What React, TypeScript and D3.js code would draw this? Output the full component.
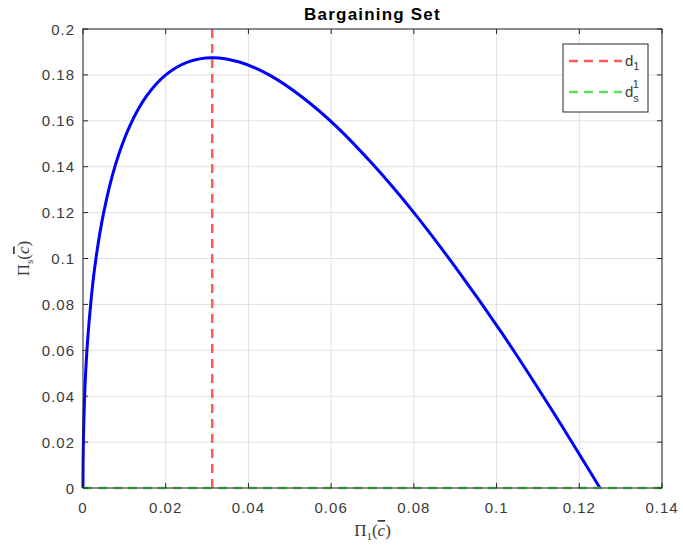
import React from "react";
import * as d3 from "d3";

const curveX = [0, 0.0000125, 0.00005, 0.00015, 0.0003125, 0.0006, 0.00125, 0.0028, 0.005, 0.0078, 0.01125, 0.0153, 0.02, 0.0253, 0.03125, 0.0378, 0.045, 0.0528, 0.0613, 0.0703, 0.08, 0.0903, 0.1013, 0.1128, 0.125];
const curveY = [0, 0.0074, 0.0147, 0.0253, 0.0356, 0.0488, 0.0675, 0.0956, 0.12, 0.1406, 0.1575, 0.1706, 0.18, 0.1856, 0.1875, 0.1856, 0.18, 0.1706, 0.1575, 0.1406, 0.12, 0.0956, 0.0675, 0.0356, 0];
const d1Value = 0.03125;
const ds1Value = 0;
const xTicks = [0, 0.02, 0.04, 0.06, 0.08, 0.1, 0.12, 0.14];
const yTicks = [0, 0.02, 0.04, 0.06, 0.08, 0.1, 0.12, 0.14, 0.16, 0.18, 0.2];
const titleText = "Bargaining Set";

export default function App() {
  const W = 683, H = 550;
  const L = 83, R = 662, T = 29, B = 488;
  const x = d3.scaleLinear().domain([0, 0.14]).range([L, R]);
  const y = d3.scaleLinear().domain([0, 0.2]).range([B, T]);
  const pts: [number, number][] = curveX.map((v, i) => [v, curveY[i]]);
  const line = d3.line<[number, number]>().x(d => x(d[0])).y(d => y(d[1])).curve(d3.curveCatmullRom.alpha(0.5));
  const axisColor = "#262626";
  const textColor = "#3a3a3a";
  const font = "'Liberation Sans', Arial, Helvetica, sans-serif";
  const tl = 5;
  const fmt = (v: number) => (v === 0 ? "0" : String(+v.toFixed(2)));
  return (
    <svg width={W} height={H} style={{ position: "absolute", left: 0, top: 0, background: "#fff" }}>
      <rect x={0} y={0} width={W} height={H} fill="#fff" />
      {xTicks.map(v => (
        <line key={"gx" + v} x1={x(v)} x2={x(v)} y1={T} y2={B} stroke="#e0e0e0" strokeWidth={1} />
      ))}
      {yTicks.map(v => (
        <line key={"gy" + v} x1={L} x2={R} y1={y(v)} y2={y(v)} stroke="#e0e0e0" strokeWidth={1} />
      ))}
      <path d={line(pts) || ""} fill="none" stroke="#0000ff" strokeWidth={3} strokeLinejoin="round" />
      <line x1={x(d1Value)} x2={x(d1Value)} y1={T} y2={B} stroke="#ff5a5a" strokeWidth={2.5} strokeDasharray="9,6" />
      <line x1={L} x2={R} y1={y(ds1Value)} y2={y(ds1Value)} stroke="#5ee05e" strokeWidth={2.5} strokeDasharray="9,6" />
      <rect x={L} y={T} width={R - L} height={B - T} fill="none" stroke={axisColor} strokeWidth={1} />
      {xTicks.map(v => (
        <g key={"tx" + v}>
          <line x1={x(v)} x2={x(v)} y1={B} y2={B - tl} stroke={axisColor} />
          <line x1={x(v)} x2={x(v)} y1={T} y2={T + tl} stroke={axisColor} />
          <text x={x(v)} y={B + 25} textAnchor="middle" fontFamily={font} fontSize={15} letterSpacing={1} fill={textColor}>{fmt(v)}</text>
        </g>
      ))}
      {yTicks.map(v => (
        <g key={"ty" + v}>
          <line x1={L} x2={L + tl} y1={y(v)} y2={y(v)} stroke={axisColor} />
          <line x1={R} x2={R - tl} y1={y(v)} y2={y(v)} stroke={axisColor} />
          <text x={L - 8} y={y(v) + 5.5} textAnchor="end" fontFamily={font} fontSize={15} letterSpacing={1} fill={textColor}>{fmt(v)}</text>
        </g>
      ))}
      <text x={(L + R) / 2} y={20} textAnchor="middle" fontFamily={font} fontSize={17} letterSpacing={1.2} fontWeight="bold" fill="#000">{titleText}</text>
      <text x={(L + R) / 2} y={536} textAnchor="middle" fontFamily="'Liberation Serif', 'DejaVu Serif', serif" fontSize={17} fill={textColor}>
        <tspan>Π</tspan><tspan fontSize={11} dy={4}>1</tspan><tspan dy={-4}>(</tspan><tspan textDecoration="overline" fontStyle="italic">c</tspan><tspan>)</tspan>
      </text>
      <g transform={`translate(29, ${(T + B) / 2}) rotate(-90)`}>
        <text x={0} y={0} textAnchor="middle" fontFamily="'Liberation Serif', 'DejaVu Serif', serif" fontSize={17} fill={textColor}>
          <tspan>Π</tspan><tspan fontSize={11} dy={4}>s</tspan><tspan dy={-4}>(</tspan><tspan textDecoration="overline" fontStyle="italic">c</tspan><tspan>)</tspan>
        </text>
      </g>
      <g>
        <rect x={563} y={44} width={85} height={68} fill="#fff" stroke={axisColor} strokeWidth={1} />
        <line x1={569} x2={622} y1={61} y2={61} stroke="#ff5a5a" strokeWidth={2.5} strokeDasharray="9,6" />
        <line x1={569} x2={622} y1={92} y2={92} stroke="#5ee05e" strokeWidth={2.5} strokeDasharray="9,6" />
        <text x={625} y={66} fontFamily={font} fontSize={15} fill={textColor}>d<tspan fontSize={11} dy={4}>1</tspan></text>
        <text x={625} y={97} fontFamily={font} fontSize={15} fill={textColor}>d<tspan fontSize={11} dy={5}>s</tspan><tspan fontSize={11} dx={-6} dy={-14}>1</tspan></text>
      </g>
    </svg>
  );
}
